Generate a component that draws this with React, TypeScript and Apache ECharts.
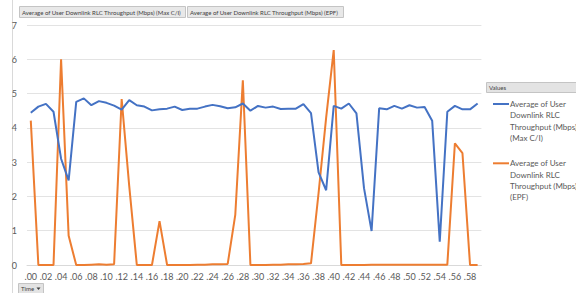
import React, { useEffect, useRef } from "react";
import * as echarts from "echarts";

const categories = [
  ".00", ".01", ".02", ".03", ".04", ".05", ".06", ".07", ".08", ".09",
  ".10", ".11", ".12", ".13", ".14", ".15", ".16", ".17", ".18", ".19",
  ".20", ".21", ".22", ".23", ".24", ".25", ".26", ".27", ".28", ".29",
  ".30", ".31", ".32", ".33", ".34", ".35", ".36", ".37", ".38", ".39",
  ".40", ".41", ".42", ".43", ".44", ".45", ".46", ".47", ".48", ".49",
  ".50", ".51", ".52", ".53", ".54", ".55", ".56", ".57", ".58", ".59",
];

const maxCI = [
  4.44, 4.62, 4.70, 4.47, 3.10, 2.47, 4.76, 4.86, 4.66, 4.78,
  4.73, 4.65, 4.53, 4.81, 4.66, 4.62, 4.51, 4.54, 4.56, 4.62,
  4.52, 4.56, 4.56, 4.62, 4.67, 4.63, 4.57, 4.60, 4.71, 4.50,
  4.64, 4.59, 4.62, 4.55, 4.56, 4.56, 4.69, 4.43, 2.70, 2.18,
  4.64, 4.56, 4.71, 4.42, 2.24, 0.99, 4.57, 4.54, 4.64, 4.56,
  4.66, 4.59, 4.61, 4.21, 0.68, 4.47, 4.64, 4.54, 4.54, 4.71,
];

const epf = [
  4.21, 0, 0, 0, 6.0, 0.85, 0, 0, 0.01, 0.02,
  0.01, 0.02, 4.84, 2.3, 0, 0, 0, 1.28, 0, 0,
  0, 0, 0.01, 0.01, 0.02, 0.02, 0.03, 1.46, 5.39, 0,
  0, 0, 0.01, 0.01, 0.02, 0.02, 0.03, 0.05, 2.1, 4.3,
  6.27, 0, 0, 0, 0, 0.01, 0.01, 0.01, 0.01, 0.01,
  0.01, 0.01, 0.01, 0.01, 0.01, 0.01, 3.55, 3.26, 0, 0,
];

const seriesNames = [
  "Average of User Downlink RLC Throughput (Mbps) (Max C/I)",
  "Average of User Downlink RLC Throughput (Mbps) (EPF)",
];

const legendLines = [
  ["Average of User", "Downlink RLC", "Throughput (Mbps)", "(Max C/I)"],
  ["Average of User", "Downlink RLC", "Throughput (Mbps)", "(EPF)"],
];

const colors = ["#4472C4", "#ED7D31"];
const FONT = "Lato, 'Open Sans', sans-serif";

export default function App() {
  const ref = useRef<HTMLDivElement>(null);

  useEffect(() => {
    if (!ref.current) return;
    const chart = echarts.init(ref.current, undefined, { renderer: "svg" });
    const lineH = 11.4;
    const legendY = [104, 163.3];
    const legendGraphics: any[] = [];
    legendY.forEach((y, i) => {
      legendGraphics.push({
        type: "line",
        shape: { x1: 493, y1: y, x2: 509, y2: y },
        style: { stroke: colors[i], lineWidth: 2 },
      });
      legendGraphics.push({
        type: "text",
        x: 510,
        y: y - lineH / 2,
        style: {
          text: legendLines[i].join("\n"),
          fontSize: 8,
          lineHeight: lineH,
          fontFamily: FONT,
          fill: "#595959",
          verticalAlign: "top",
        },
      });
    });
    chart.setOption({
      animation: false,
      grid: { left: 27, top: 25, width: 454.4, height: 240, containLabel: false },
      legend: { show: false, data: seriesNames },
      xAxis: {
        type: "category",
        data: categories,
        boundaryGap: true,
        axisTick: { show: false },
        axisLine: { lineStyle: { color: "#d9d9d9" } },
        axisLabel: { interval: 1, color: "#595959", fontSize: 9, fontFamily: FONT, margin: 7 },
      },
      yAxis: {
        type: "value",
        min: 0,
        max: 7,
        interval: 1,
        axisLine: { show: false },
        axisTick: { show: false },
        axisLabel: { color: "#595959", fontSize: 9, fontFamily: FONT, margin: 10 },
        splitLine: { lineStyle: { color: "#e3e3e3", width: 1 } },
      },
      series: [
        {
          name: seriesNames[0],
          type: "line",
          data: maxCI,
          symbol: "none",
          lineStyle: { color: colors[0], width: 2 },
          itemStyle: { color: colors[0] },
          z: 3,
        },
        {
          name: seriesNames[1],
          type: "line",
          data: epf,
          symbol: "none",
          lineStyle: { color: colors[1], width: 2 },
          itemStyle: { color: colors[1] },
          z: 2,
        },
      ],
      graphic: [
        { type: "line", shape: { x1: 12.5, y1: 0, x2: 12.5, y2: 293 }, style: { stroke: "#d9d9d9", lineWidth: 1 } },
        { type: "rect", shape: { x: 19.5, y: 6.5, width: 166, height: 11 }, style: { fill: "#e8e8e8", stroke: "#c4c4c4", lineWidth: 1 } },
        { type: "text", x: 22, y: 12, style: { text: seriesNames[0], fontSize: 6, fontFamily: FONT, fill: "#404040", verticalAlign: "middle" } },
        { type: "rect", shape: { x: 187.5, y: 6.5, width: 156, height: 11 }, style: { fill: "#e8e8e8", stroke: "#c4c4c4", lineWidth: 1 } },
        { type: "text", x: 190, y: 12, style: { text: seriesNames[1], fontSize: 6, fontFamily: FONT, fill: "#404040", verticalAlign: "middle" } },
        { type: "rect", shape: { x: 486.5, y: 82.5, width: 92, height: 10 }, style: { fill: "#e3e3e3", stroke: "#c4c4c4", lineWidth: 1 } },
        { type: "text", x: 489, y: 87.5, style: { text: "Values", fontSize: 6, fontFamily: FONT, fill: "#404040", verticalAlign: "middle" } },
        { type: "rect", shape: { x: 18.5, y: 283.5, width: 25, height: 11 }, style: { fill: "#e3e3e3", stroke: "#c4c4c4", lineWidth: 1 } },
        { type: "text", x: 21, y: 288.5, style: { text: "Time", fontSize: 6, fontFamily: FONT, fill: "#404040", verticalAlign: "middle" } },
        { type: "polygon", shape: { points: [[36.5, 287.5], [40.5, 287.5], [38.5, 290]] }, style: { fill: "#404040" } },
        ...legendGraphics,
      ],
    });
    return () => chart.dispose();
  }, []);

  return (
    <div
      ref={ref}
      style={{ position: "absolute", left: 0, top: 0, width: 576, height: 293, background: "#ffffff" }}
    />
  );
}
